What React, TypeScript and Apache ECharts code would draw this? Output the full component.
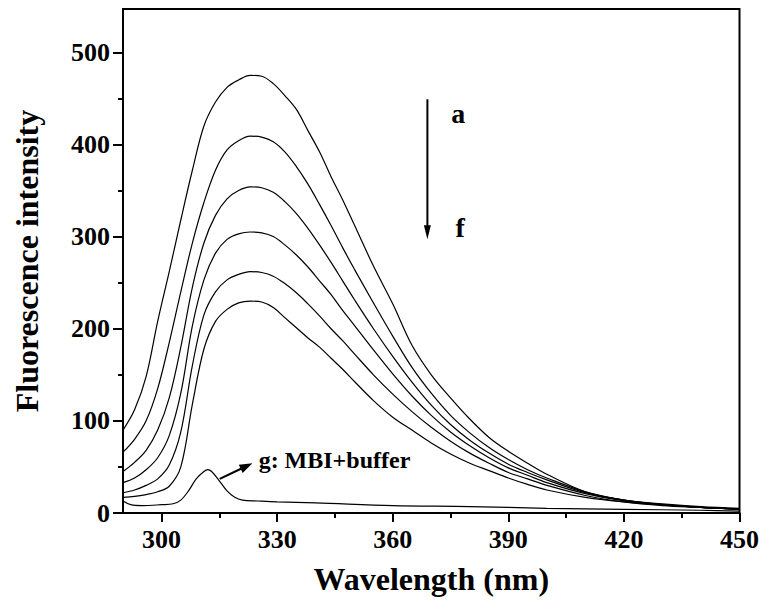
import React, { useEffect, useRef } from 'react';
import * as echarts from 'echarts';

// Wavelength grid (nm) for curves a–f
const wavelengths = [290, 293, 296, 299, 302, 305, 308, 311, 314, 317, 320, 323, 326, 329, 332, 335, 338, 341, 344, 347, 350, 355, 360, 365, 370, 375, 380, 385, 390, 395, 400, 410, 420, 430, 440, 450];
const curveA = [90, 112, 148, 208, 262, 318, 372, 420, 446, 462, 470, 475, 474, 466, 453, 438, 415, 392, 365, 340, 313, 268, 227, 182, 150, 125, 102, 82, 67, 54, 42, 23, 14, 10, 7, 5];
const curveB = [66, 80, 100, 135, 185, 240, 293, 337, 372, 394, 404, 409, 408, 403, 392, 376, 357, 335, 312, 288, 265, 228, 192, 158, 130, 106, 87, 71, 58, 47, 38, 23, 14, 9, 6, 4];
const curveC = [45, 55, 68, 90, 125, 180, 245, 293, 323, 341, 350, 354, 353, 348, 338, 325, 309, 291, 272, 252, 232, 200, 170, 142, 117, 96, 79, 65, 53, 44, 36, 22, 14, 9, 6, 4];
const curveD = [33, 38, 47, 60, 84, 130, 203, 253, 282, 297, 303, 305, 304, 300, 291, 280, 267, 252, 237, 220, 204, 177, 151, 127, 106, 88, 73, 60, 49, 41, 33, 21, 13, 9, 6, 4];
const curveE = [22, 25, 30, 37, 52, 88, 160, 215, 240, 253, 259, 262, 261, 257, 249, 239, 227, 214, 200, 187, 173, 150, 129, 110, 93, 78, 65, 54, 44, 37, 30, 19, 12, 8, 6, 4];
const curveF = [17, 18, 20, 23, 29, 50, 118, 178, 208, 221, 228, 230, 229, 223, 212, 201, 190, 180, 168, 156, 143, 122, 104, 90, 76, 64, 54, 46, 38, 31, 25, 17, 12, 9, 6, 4];

// Curve g: MBI + buffer
const gWavelengths = [290, 292, 295, 300, 303, 305, 307, 309, 311, 312, 313, 315, 317, 319, 321, 325, 330, 340, 360, 380, 400, 420, 440, 450];
const curveG = [13, 9, 8, 9, 10, 14, 24, 37, 45, 47, 45, 35, 24, 17, 14, 13, 12, 11, 8, 7, 5, 4, 3, 2];

// Axis ticks
const xTickLabels = [300, 330, 360, 390, 420, 450];
const xMinorTicks = [315, 345, 375, 405, 435];
const yTickLabels = [0, 100, 200, 300, 400, 500];
const yMinorTicks = [50, 150, 250, 350, 450];

// Annotation anchors (data units)
const arrowAF = { from: [369, 449], to: [369, 297] };
const labelA = { text: 'a', at: [377, 434] };
const labelF = { text: 'f', at: [377.5, 310] };
const arrowG = { from: [315.1, 37], to: [323.6, 54] };
const labelG = { text: 'g: MBI+buffer', at: [325.2, 57] };

const FONT = '"Liberation Serif", "Times New Roman", serif';

export default function App() {
  const ref = useRef<HTMLDivElement>(null);

  useEffect(() => {
    if (!ref.current) return;
    const chart = echarts.init(ref.current, null, { renderer: 'svg' });

    const pair = (xs: number[], ys: number[]) => ys.map((y, i) => [xs[i], y]);
    const line = (name: string, data: number[][]) => ({
      type: 'line',
      name,
      data,
      smooth: 0.35,
      symbol: 'none',
      silent: true,
      lineStyle: { color: '#000', width: 1.2 },
    });

    const tickLine = { color: '#000', width: 2 };
    const labelStyle = { color: '#000', fontFamily: FONT, fontWeight: 'bold', fontSize: 26 };
    const titleStyle = { color: '#000', fontFamily: FONT, fontWeight: 'bold', fontSize: 32 };

    chart.setOption({
      animation: false,
      backgroundColor: '#fff',
      grid: {
        left: 123,
        right: 20,
        top: 9,
        bottom: 94,
        show: true,
        borderColor: '#000',
        borderWidth: 2,
        backgroundColor: 'transparent',
      },
      xAxis: [
        {
          type: 'value',
          min: 290,
          max: 450,
          position: 'bottom',
          axisLine: { show: true, onZero: false, lineStyle: tickLine },
          axisTick: { show: true, inside: false, length: 9, lineStyle: tickLine, customValues: xTickLabels },
          axisLabel: { ...labelStyle, margin: 13, customValues: xTickLabels },
          splitLine: { show: false },
          name: 'Wavelength (nm)',
          nameLocation: 'middle',
          nameGap: 50,
          nameTextStyle: titleStyle,
        },
        {
          type: 'value',
          min: 290,
          max: 450,
          position: 'bottom',
          axisLine: { show: false, onZero: false },
          axisTick: { show: true, inside: false, length: 5, lineStyle: tickLine, customValues: xMinorTicks },
          axisLabel: { show: false },
          splitLine: { show: false },
        },
      ],
      yAxis: [
        {
          type: 'value',
          min: 0,
          max: 547,
          position: 'left',
          axisLine: { show: true, onZero: false, lineStyle: tickLine },
          axisTick: { show: true, inside: false, length: 10, lineStyle: tickLine, customValues: yTickLabels },
          axisLabel: { ...labelStyle, margin: 13, customValues: yTickLabels },
          splitLine: { show: false },
          name: 'Fluorescence intensity',
          nameLocation: 'middle',
          nameGap: 80,
          nameTextStyle: titleStyle,
        },
        {
          type: 'value',
          min: 0,
          max: 547,
          position: 'left',
          axisLine: { show: false, onZero: false },
          axisTick: { show: true, inside: false, length: 5, lineStyle: tickLine, customValues: yMinorTicks },
          axisLabel: { show: false },
          splitLine: { show: false },
        },
      ],
      series: [
        line('a', pair(wavelengths, curveA)),
        line('b', pair(wavelengths, curveB)),
        line('c', pair(wavelengths, curveC)),
        line('d', pair(wavelengths, curveD)),
        line('e', pair(wavelengths, curveE)),
        line('f', pair(wavelengths, curveF)),
        line('g', pair(gWavelengths, curveG)),
      ],
    });

    const px = (pt: number[]) => chart.convertToPixel({ gridIndex: 0 }, pt) as number[];

    const arrow = (from: number[], to: number[], headLen: number, headHalf: number, width: number) => {
      const s = px(from);
      const e = px(to);
      const dx = e[0] - s[0];
      const dy = e[1] - s[1];
      const len = Math.hypot(dx, dy) || 1;
      const ux = dx / len;
      const uy = dy / len;
      const bx = e[0] - ux * headLen;
      const by = e[1] - uy * headLen;
      const nx = -uy;
      const ny = ux;
      return [
        {
          type: 'line',
          silent: true,
          shape: { x1: s[0], y1: s[1], x2: bx + ux * 2, y2: by + uy * 2 },
          style: { stroke: '#000', lineWidth: width },
        },
        {
          type: 'polygon',
          silent: true,
          shape: {
            points: [
              [e[0], e[1]],
              [bx + nx * headHalf, by + ny * headHalf],
              [bx - nx * headHalf, by - ny * headHalf],
            ],
          },
          style: { fill: '#000' },
        },
      ];
    };

    const text = (t: string, at: number[], size: number, align: string) => {
      const p = px(at);
      return {
        type: 'text',
        silent: true,
        x: p[0],
        y: p[1],
        style: {
          text: t,
          fill: '#000',
          fontFamily: FONT,
          fontWeight: 'bold',
          fontSize: size,
          align,
          verticalAlign: 'middle',
        },
      };
    };

    chart.setOption({
      graphic: [
        ...arrow(arrowAF.from, arrowAF.to, 14, 3.5, 2),
        ...arrow(arrowG.from, arrowG.to, 13, 4.5, 2),
        text(labelA.text, labelA.at, 28, 'center'),
        text(labelF.text, labelF.at, 28, 'center'),
        text(labelG.text, labelG.at, 24, 'left'),
      ],
    });

    return () => chart.dispose();
  }, []);

  return (
    <div
      ref={ref}
      style={{ position: 'fixed', left: 0, top: 0, width: 762, height: 607, background: '#fff' }}
    />
  );
}
